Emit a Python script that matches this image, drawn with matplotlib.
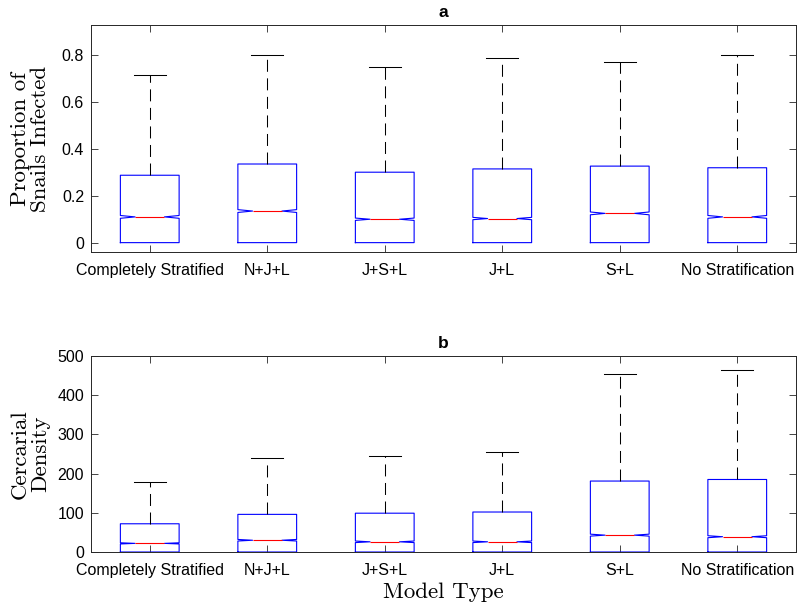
import numpy as np
import matplotlib.pyplot as plt

# model types on the x axis
models = ['Completely Stratified', 'N+J+L', 'J+S+L', 'J+L', 'S+L', 'No Stratification']

# panel a: proportion of snails infected
prop_q1 = [0.0, 0.0, 0.0, 0.0, 0.0, 0.0]
prop_med = [0.110, 0.135, 0.100, 0.103, 0.125, 0.110]
prop_q3 = [0.288, 0.336, 0.301, 0.315, 0.327, 0.320]
prop_lo = [0.0, 0.0, 0.0, 0.0, 0.0, 0.0]
prop_hi = [0.716, 0.800, 0.752, 0.787, 0.770, 0.800]
prop_notch = [0.006, 0.006, 0.005, 0.005, 0.006, 0.006]

# panel b: cercarial density
dens_q1 = [0.0, 0.0, 0.0, 0.0, 0.0, 0.0]
dens_med = [22, 30, 26, 26, 43, 39]
dens_q3 = [72, 96, 99, 102, 181, 185]
dens_lo = [0.0, 0.0, 0.0, 0.0, 0.0, 0.0]
dens_hi = [178, 239, 245, 255, 455, 464]
dens_notch = [1.5, 2, 2, 2, 2.5, 2.5]

plt.rcParams['font.family'] = ['Liberation Sans', 'DejaVu Sans']
AXCOL = '#262626'


def make_stats(q1, med, q3, lo, hi, notch):
    stats = []
    for i in range(len(med)):
        stats.append(dict(med=med[i], q1=q1[i], q3=q3[i], whislo=lo[i], whishi=hi[i],
                          cilo=med[i] - notch[i], cihi=med[i] + notch[i], fliers=[]))
    return stats


def draw_panel(ax, stats, title, ylabel, ylim, yticks):
    bp = ax.bxp(stats, positions=np.arange(1, len(stats) + 1), widths=0.5, shownotches=True,
                showfliers=False, capwidths=0.27,
                boxprops=dict(color='blue', linewidth=0.8),
                medianprops=dict(color='red', linewidth=0.8),
                whiskerprops=dict(color='black', linewidth=0.75, linestyle=(0, (11.5, 6.3))),
                capprops=dict(color='black', linewidth=0.75))
    # lower caps sit on the box bottom (q1 = 0), hidden behind it in the original
    for cap in bp['caps'][::2]:
        cap.set_visible(False)
    ax.set_xlim(0.5, len(stats) + 0.5)
    ax.set_ylim(*ylim)
    ax.set_yticks(yticks)
    ax.set_xticks(np.arange(1, len(stats) + 1))
    ax.set_xticklabels(models)
    ax.tick_params(direction='in', length=5, width=0.6, color=AXCOL, labelsize=11.5,
                   pad=5, top=True, right=True, labelcolor='black')
    ax.tick_params(axis='x', pad=8)
    for sp in ax.spines.values():
        sp.set_color(AXCOL)
        sp.set_linewidth(0.7)
    ax.set_title(title, fontsize=12.5, fontweight='bold', pad=6)
    ax.set_ylabel(ylabel, fontsize=16.5, family='cmr10', linespacing=1.05)
    ax.yaxis.set_label_coords(-0.058, 0.5)


fig = plt.figure(figsize=(7.97, 6.04), dpi=100)
ax1 = fig.add_axes([91 / 797, 1 - 252 / 604, 705 / 797, 227 / 604])
ax2 = fig.add_axes([91 / 797, 1 - 552 / 604, 705 / 797, 196 / 604])

draw_panel(ax1, make_stats(prop_q1, prop_med, prop_q3, prop_lo, prop_hi, prop_notch),
           'a', 'Proportion of\nSnails Infected', (-0.04, 0.93), [0, 0.2, 0.4, 0.6, 0.8])
ax1.set_yticklabels(['0', '0.2', '0.4', '0.6', '0.8'])
draw_panel(ax2, make_stats(dens_q1, dens_med, dens_q3, dens_lo, dens_hi, dens_notch),
           'b', 'Cercarial\nDensity', (0, 500), [0, 100, 200, 300, 400, 500])
ax2.set_xlabel('Model Type', fontsize=16.5, family='cmr10', labelpad=3)

fig.savefig('out.png', dpi=100)
